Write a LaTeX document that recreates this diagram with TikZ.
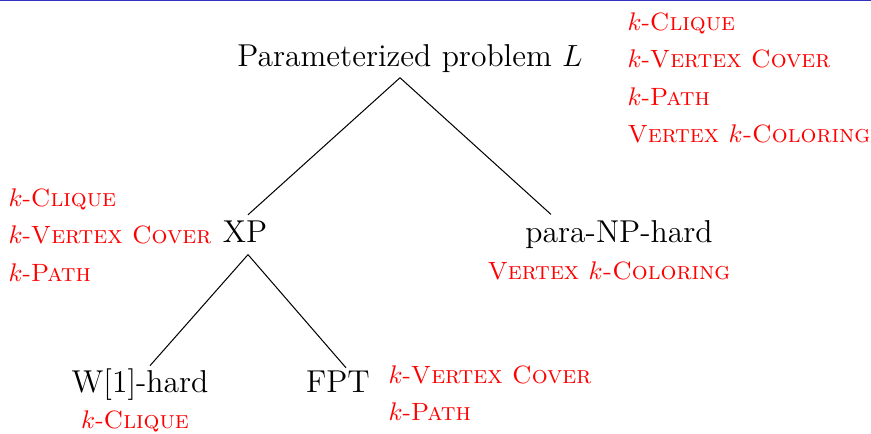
\documentclass[tikz,border=0pt]{standalone}
\usetikzlibrary{calc}
\definecolor{framebar}{RGB}{50,50,190}
\begin{document}
\begin{tikzpicture}[x=0.392pt, y=-0.392pt,
    class/.style={inner sep=2pt, anchor=base, font=\fontsize{12.4}{14.5}\selectfont},
    probs/.style={inner sep=0pt, text=red, align=left, font=\fontsize{9.8}{14.7}\selectfont}]
    \useasboundingbox (0,0) rectangle (871,433);
    \fill[framebar] (0,0) rectangle (871,1.5);

    \node[class] (root)  at (410,66)  {Parameterized problem $L$};
    \node[class] (xp)    at (245,242) {XP};
    \node[class] (para)  at (619,242) {para-NP-hard};
    \node[class] (whard) at (140,392) {W[1]-hard};
    \node[class] (fpt)   at (338,392) {FPT};

    \draw ($(root.south)+(-10,0)$) -- ($(xp.north)+(3,0)$);
    \draw ($(root.south)+(-10,0)$) -- ($(para.north)+(-68,0)$);
    \draw ($(xp.south)+(3,7)$) -- ($(whard.north)+(10,3)$);
    \draw ($(xp.south)+(3,7)$) -- ($(fpt.north)+(8,3)$);

    % problems in each class
    \node[probs, anchor=north west] (rootprobs) at (627,12)
        {$k$-\textsc{Clique}\\ $k$-\textsc{Vertex Cover}\\ $k$-\textsc{Path}\\ \textsc{Vertex $k$-Coloring}};
    \node[probs, anchor=north west] (xpprobs) at (8,188)
        {$k$-\textsc{Clique}\\ $k$-\textsc{Vertex Cover}\\ $k$-\textsc{Path}};
    \node[probs, anchor=base] (paraprobs) at (609,279) {\textsc{Vertex $k$-Coloring}};
    \node[probs, anchor=base] (whardprobs) at (135,428) {$k$-\textsc{Clique}};
    \node[probs, anchor=north west] (fptprobs) at (388,365)
        {$k$-\textsc{Vertex Cover}\\ $k$-\textsc{Path}};
\end{tikzpicture}
\end{document}
